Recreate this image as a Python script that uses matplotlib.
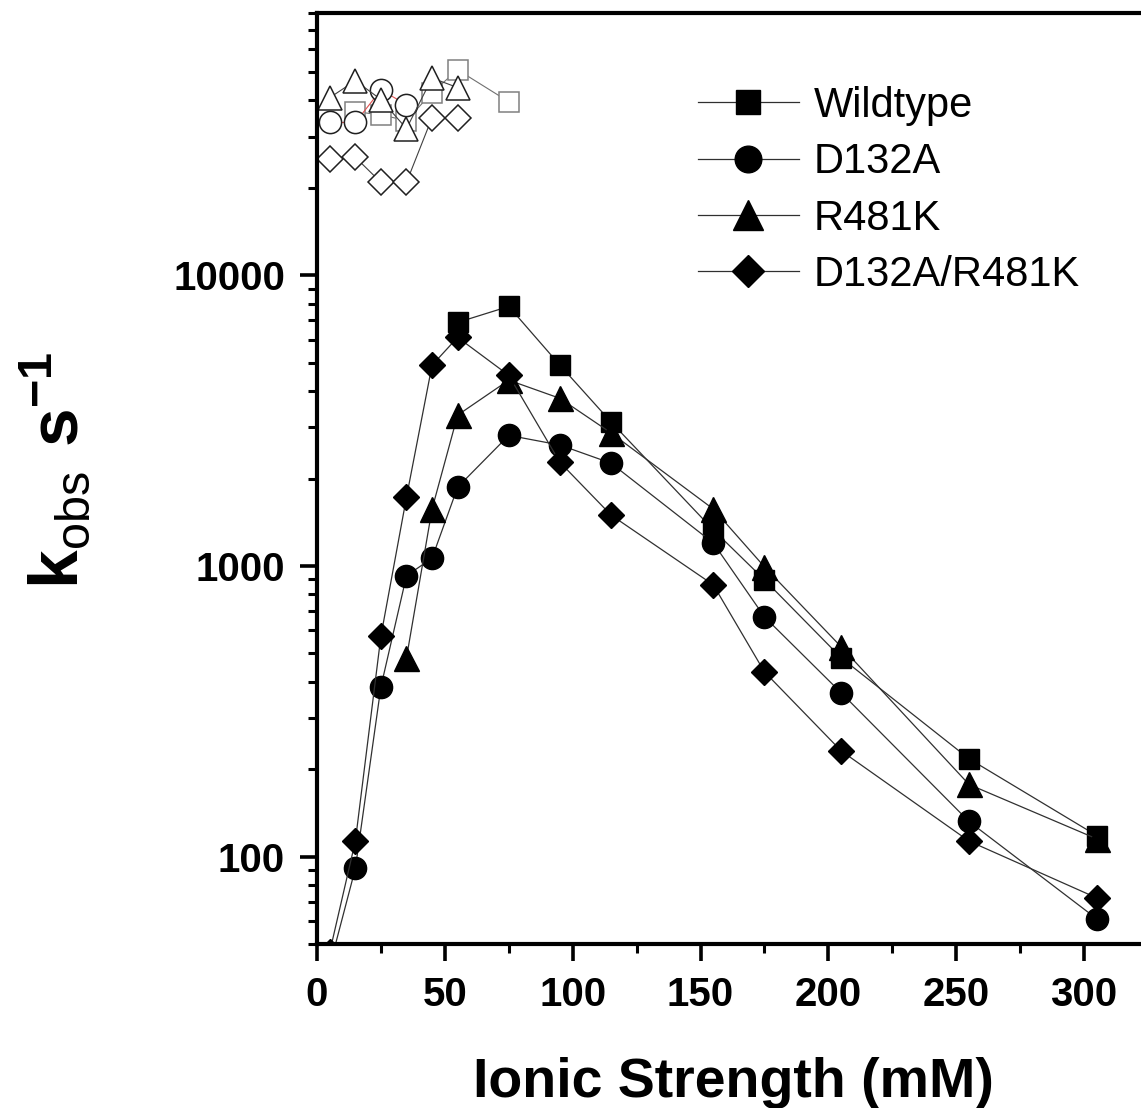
import matplotlib
matplotlib.use("Agg")
import matplotlib.pyplot as plt
from matplotlib.ticker import LogLocator, FixedLocator, MultipleLocator, NullFormatter

plt.rcParams["font.family"] = ["Liberation Sans", "DejaVu Sans"]
plt.rcParams["mathtext.fontset"] = "custom"
plt.rcParams["mathtext.rm"] = "Liberation Sans"
plt.rcParams["mathtext.bf"] = "Liberation Sans:bold"

# ionic strength (mM)
wt_x = [55, 75, 95, 115, 155, 175, 205, 255, 305]
wt_k = [6890, 7820, 4910, 3130, 1331, 896, 483, 217, 118]

d132a_x = [5, 15, 25, 35, 45, 55, 75, 95, 115, 155, 175, 205, 255, 305]
d132a_k = [42, 91, 384, 925, 1064, 1867, 2815, 2608, 2258, 1199, 668, 366, 132, 61]

r481k_x = [35, 45, 55, 75, 95, 115, 155, 175, 205, 255, 305]
r481k_k = [483, 1570, 3305, 4360, 3775, 2870, 1570, 993, 527, 177, 115]

dm_x = [5, 15, 25, 35, 45, 55, 75, 95, 115, 155, 175, 205, 255, 305]
dm_k = [47, 113, 574, 1725, 4910, 6120, 4530, 2274, 1497, 861, 432, 231, 113, 72]

# open symbols near the top of the plot
wt_open_x = [15, 25, 35, 45, 55, 75]
wt_open_k = [36600, 35700, 34100, 42600, 51000, 39600]
d132a_open_x = [5, 15, 25, 35]
d132a_open_k = [33600, 33600, 43500, 38700]
r481k_open_x = [5, 15, 25, 35, 45, 55]
r481k_open_k = [40900, 46800, 40300, 32000, 47800, 44300]
dm_open_x = [5, 15, 25, 35, 45, 55]
dm_open_k = [25200, 25500, 20900, 20900, 34900, 34900]

labels = ["Wildtype", "D132A", "R481K", "D132A/R481K"]

W, H = 1141, 1108
fig = plt.figure(figsize=(W / 100, H / 100), dpi=100)
ax = fig.add_axes([317 / W, (H - 944) / H, 831 / W, (944 - 13) / H])

line_kw = dict(color="#303030", linewidth=0.9)
ax.plot(wt_x, wt_k, marker="s", markersize=14.5, mfc="black", mec="black", label=labels[0], **line_kw)
ax.plot(d132a_x, d132a_k, marker="o", markersize=16, mfc="black", mec="black", label=labels[1], **line_kw)
ax.plot(r481k_x, r481k_k, marker="^", markersize=18, mfc="black", mec="black", label=labels[2], **line_kw)
ax.plot(dm_x, dm_k, marker="D", markersize=13.5, mfc="black", mec="black", label=labels[3], **line_kw)

open_kw = dict(linewidth=0.8, mfc="white", mew=1.1)
ax.plot(wt_open_x, wt_open_k, marker="s", markersize=14.5, color="#707070", mec="#808080", **open_kw)
ax.plot(d132a_open_x, d132a_open_k, marker="o", markersize=16, color="#e05050", mec="#202020", **open_kw)
ax.plot(r481k_open_x, r481k_open_k, marker="^", markersize=17, color="#404040", mec="#202020", **open_kw)
ax.plot(dm_open_x, dm_open_k, marker="D", markersize=13.5, color="#404040", mec="#202020", **open_kw)

ax.set_yscale("log")
ax.set_ylim(50, 80000)
ax.set_xlim(0, 325)

ax.xaxis.set_major_locator(MultipleLocator(50))
ax.xaxis.set_minor_locator(MultipleLocator(25))
ax.yaxis.set_major_locator(FixedLocator([100, 1000, 10000]))
ax.yaxis.set_minor_locator(LogLocator(base=10, subs=range(2, 10)))
ax.yaxis.set_minor_formatter(NullFormatter())
ax.set_yticklabels(["100", "1000", "10000"])

for s in ["left", "bottom", "top", "right"]:
    ax.spines[s].set_linewidth(3)

ax.tick_params(axis="both", which="major", direction="out", length=12, width=2.6,
               labelsize=29, pad=11)
ax.tick_params(axis="both", which="minor", direction="out", length=6.5, width=2.2)
for lab in ax.get_xticklabels() + ax.get_yticklabels():
    lab.set_fontweight("bold")

fig.text(733 / W, (H - 1097) / H, "Ionic Strength (mM)", ha="center", va="baseline",
         fontsize=40, fontweight="bold")
fig.text(55 / W, (H - 470) / H, r"$\mathbf{k}_{\mathrm{obs}}\ \mathbf{s}^{\mathbf{-1}}$",
         rotation=90, ha="center", va="center", fontsize=50)

ax.legend(loc="upper left", bbox_to_anchor=(698 / W, (H - 86) / H),
          bbox_transform=fig.transFigure, frameon=False, fontsize=30,
          handlelength=2.42, handletextpad=0.36, labelspacing=0.39,
          borderpad=0, borderaxespad=0, markerscale=1.2)

fig.savefig("out.png", dpi=100)
